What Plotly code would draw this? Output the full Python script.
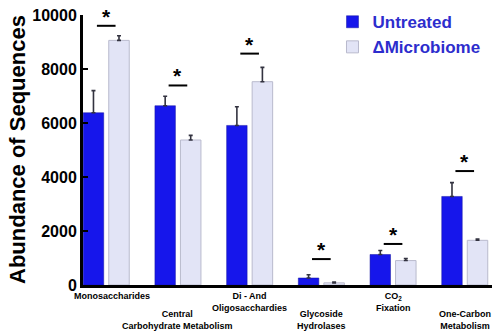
import plotly.graph_objects as go

# ---- data ----
categories = ["Monosaccharides", "Central<br>Carbohydrate Metabolism", "Di - And<br>Oligosacchardies",
              "Glycoside<br>Hydrolases", "CO<sub>2</sub><br>Fixation", "One-Carbon<br>Metabolism"]
untreated = [6380, 6640, 5910, 260, 1130, 3280]
untreated_err = [820, 350, 690, 120, 150, 510]
microbiome = [9060, 5370, 7530, 80, 905, 1655]
microbiome_err = [170, 170, 530, 30, 75, 45]
sig_levels = [9600, 7390, 8570, 960, 1520, 4220]
y_ticks = [0, 2000, 4000, 6000, 8000, 10000]

FONT = "Liberation Sans, Arial, sans-serif"
BLUE = "rgb(22,22,235)"
LIGHT = "rgb(226,228,246)"

x = list(range(len(categories)))

fig = go.Figure()
fig.add_trace(go.Bar(
    x=x, y=untreated, name="Untreated",
    marker=dict(color=BLUE, line=dict(color="rgb(20,20,160)", width=0.5)),
    error_y=dict(type="data", symmetric=False, array=untreated_err,
                 arrayminus=[0] * len(untreated), color="#333340", thickness=1.6, width=2),
))
fig.add_trace(go.Bar(
    x=x, y=microbiome, name="\u0394Microbiome",
    marker=dict(color=LIGHT, line=dict(color="rgb(185,186,205)", width=1)),
    error_y=dict(type="data", symmetric=False, array=microbiome_err,
                 arrayminus=[0] * len(microbiome), color="#333340", thickness=1.6, width=2),
))

# significance lines and stars
for i, lvl in enumerate(sig_levels):
    fig.add_shape(type="line", xref="x", yref="y", x0=i - 0.13, x1=i + 0.13, y0=lvl, y1=lvl,
                  line=dict(color="black", width=2))
    fig.add_annotation(x=i, y=lvl, xref="x", yref="y", text="<b>*</b>", showarrow=False,
                       yanchor="bottom", yshift=-4, font=dict(family=FONT, size=21, color="black"))

# category labels (staggered)
for i, cat in enumerate(categories):
    fig.add_annotation(x=i, y=0, xref="x", yref="paper", text="<b>" + cat + "</b>",
                       showarrow=False, yanchor="top", align="center",
                       xshift=6 if i == 0 else 0,
                       yshift=-4 if i % 2 == 0 else -22,
                       font=dict(family=FONT, size=9, color="black"))

# y axis title
fig.add_annotation(x=0, y=0.5, xref="paper", yref="paper", text="<b>Abundance of Sequences</b>",
                   textangle=-90, showarrow=False, xanchor="center", yanchor="middle", xshift=-66,
                   font=dict(family=FONT, size=22, color="black"))

fig.update_layout(
    width=492, height=331,
    margin=dict(l=83, r=0, t=15, b=46),
    paper_bgcolor="white", plot_bgcolor="white",
    barmode="group", bargap=0.288, bargroupgap=0.197,
    showlegend=True,
    legend=dict(x=0.61, y=1.04, xanchor="left", yanchor="top",
                font=dict(family=FONT, size=17, color="rgb(45,45,205)", weight="bold"),
                bgcolor="rgba(0,0,0,0)", tracegroupgap=0, itemwidth=30),
    xaxis=dict(range=[-0.324, 5.38], showline=True, linecolor="black", linewidth=3,
               showticklabels=False, ticks="", showgrid=False, zeroline=False),
    yaxis=dict(range=[0, 10000], tickvals=y_ticks, tickformat="d", showline=True,
               linecolor="black", linewidth=3,
               ticks="inside", ticklen=5, tickwidth=2, tickcolor="black",
               tickfont=dict(family=FONT, size=16, color="black", weight="bold"),
               showgrid=False, zeroline=False),
)

fig.write_html("out.html")
